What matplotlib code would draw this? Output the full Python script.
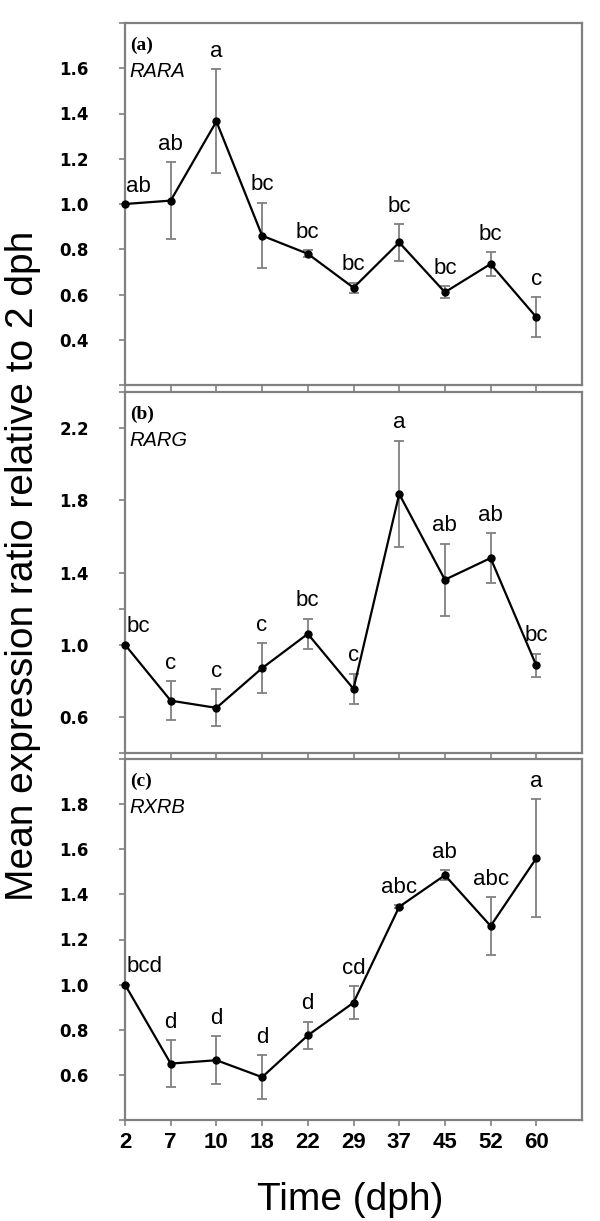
import numpy as np
import matplotlib
matplotlib.use('Agg')
import matplotlib.pyplot as plt

days = ['2', '7', '10', '18', '22', '29', '37', '45', '52', '60']

rara_mean = [1.00, 1.015, 1.365, 0.86, 0.78, 0.63, 0.83, 0.61, 0.735, 0.50]
rara_err = [0.0, 0.17, 0.23, 0.145, 0.015, 0.022, 0.08, 0.027, 0.052, 0.087]
rara_sig = ['ab', 'ab', 'a', 'bc', 'bc', 'bc', 'bc', 'bc', 'bc', 'c']

rarg_mean = [1.00, 0.69, 0.65, 0.87, 1.06, 0.755, 1.835, 1.36, 1.48, 0.885]
rarg_err = [0.0, 0.107, 0.103, 0.138, 0.083, 0.083, 0.295, 0.2, 0.138, 0.065]
rarg_sig = ['bc', 'c', 'c', 'c', 'bc', 'c', 'a', 'ab', 'ab', 'bc']

rxrb_mean = [1.00, 0.65, 0.665, 0.59, 0.775, 0.92, 1.345, 1.485, 1.26, 1.56]
rxrb_err = [0.0, 0.103, 0.106, 0.096, 0.061, 0.073, 0.006, 0.022, 0.128, 0.262]
rxrb_sig = ['bcd', 'd', 'd', 'd', 'd', 'cd', 'abc', 'ab', 'abc', 'a']

panels = [
    ('(a)', 'RARA', rara_mean, rara_err, rara_sig, (0.2, 1.8),
     [0.2, 0.4, 0.6, 0.8, 1.0, 1.2, 1.4, 1.6, 1.8],
     ['', '0.4', '0.6', '0.8', '1.0', '1.2', '1.4', '1.6', '']),
    ('(b)', 'RARG', rarg_mean, rarg_err, rarg_sig, (0.4, 2.4),
     [0.4, 0.6, 1.0, 1.2, 1.4, 1.8, 2.2, 2.4],
     ['', '0.6', '1.0', '', '1.4', '1.8', '2.2', '']),
    ('(c)', 'RXRB', rxrb_mean, rxrb_err, rxrb_sig, (0.4, 2.0),
     [0.4, 0.6, 0.8, 1.0, 1.2, 1.4, 1.6, 1.8, 2.0],
     ['', '0.6', '0.8', '1.0', '1.2', '1.4', '1.6', '1.8', '']),
]

GRAY = '#808080'
SANS = 'Liberation Sans'

fig = plt.figure(figsize=(6, 12.21), dpi=100)
H = 1221.0
W = 600.0
# axes boxes in pixels: top, bottom
boxes = [(23, 385), (392, 753), (759, 1120)]
left, right = 125, 582

x = np.arange(len(days))

for i, (tag, gene, mean, err, sig, ylim, yt, ytl) in enumerate(panels):
    top, bot = boxes[i]
    ax = fig.add_axes([left / W, 1 - bot / H, (right - left) / W, (bot - top) / H])
    mean = np.array(mean)
    err = np.array(err)
    ax.errorbar(x, mean, yerr=err, fmt='none', ecolor=GRAY, elinewidth=1.3,
                capsize=3.5, capthick=1.3, zorder=2)
    ax.plot(x, mean, color='black', lw=1.6, marker='o', markersize=5,
            zorder=3, clip_on=False)
    for xi, m, e, s in zip(x, mean, err, sig):
        if xi == 0:
            ax.annotate(s, (xi, m + e), xytext=(1, 9), textcoords='offset points',
                        ha='left', va='baseline', fontsize=16, family=SANS)
        else:
            ax.annotate(s, (xi, m + e), xytext=(0, 9), textcoords='offset points',
                        ha='center', va='baseline', fontsize=16, family=SANS)
    ax.annotate(tag, (0, 1), xycoords='axes fraction', xytext=(3.5, -19.5),
                textcoords='offset points', ha='left', va='baseline',
                fontsize=14, family='Liberation Serif', fontweight='bold')
    ax.annotate(gene, (0, 1), xycoords='axes fraction', xytext=(3.5, -39),
                textcoords='offset points', ha='left', va='baseline',
                fontsize=14.5, family=SANS, style='italic')

    ax.set_xlim(0, 10)
    ax.set_ylim(*ylim)
    ax.set_xticks(x)
    ax.set_yticks(yt)
    ax.set_yticklabels(ytl, fontsize=12, fontweight='bold', family='DejaVu Sans')
    if i == 2:
        ax.set_xticklabels(days, fontsize=16, fontweight='bold', family=SANS)
    else:
        ax.set_xticklabels([])
    ax.tick_params(axis='y', direction='out', length=4, width=1.2, color=GRAY, pad=22)
    ax.tick_params(axis='x', direction='out', length=4, width=1.2, color=GRAY, pad=5)
    for sp in ax.spines.values():
        sp.set_color(GRAY)
        sp.set_linewidth(1.6)

fig.text(33 / W, 1 - 566 / H, 'Mean expression ratio relative to 2 dph',
         rotation=90, rotation_mode='anchor', ha='center', va='baseline',
         fontsize=28, family=SANS)
fig.text(350 / W, 1 - 1210 / H, 'Time (dph)', ha='center', va='baseline',
         fontsize=28, family=SANS)

fig.savefig('out.png', dpi=100)
